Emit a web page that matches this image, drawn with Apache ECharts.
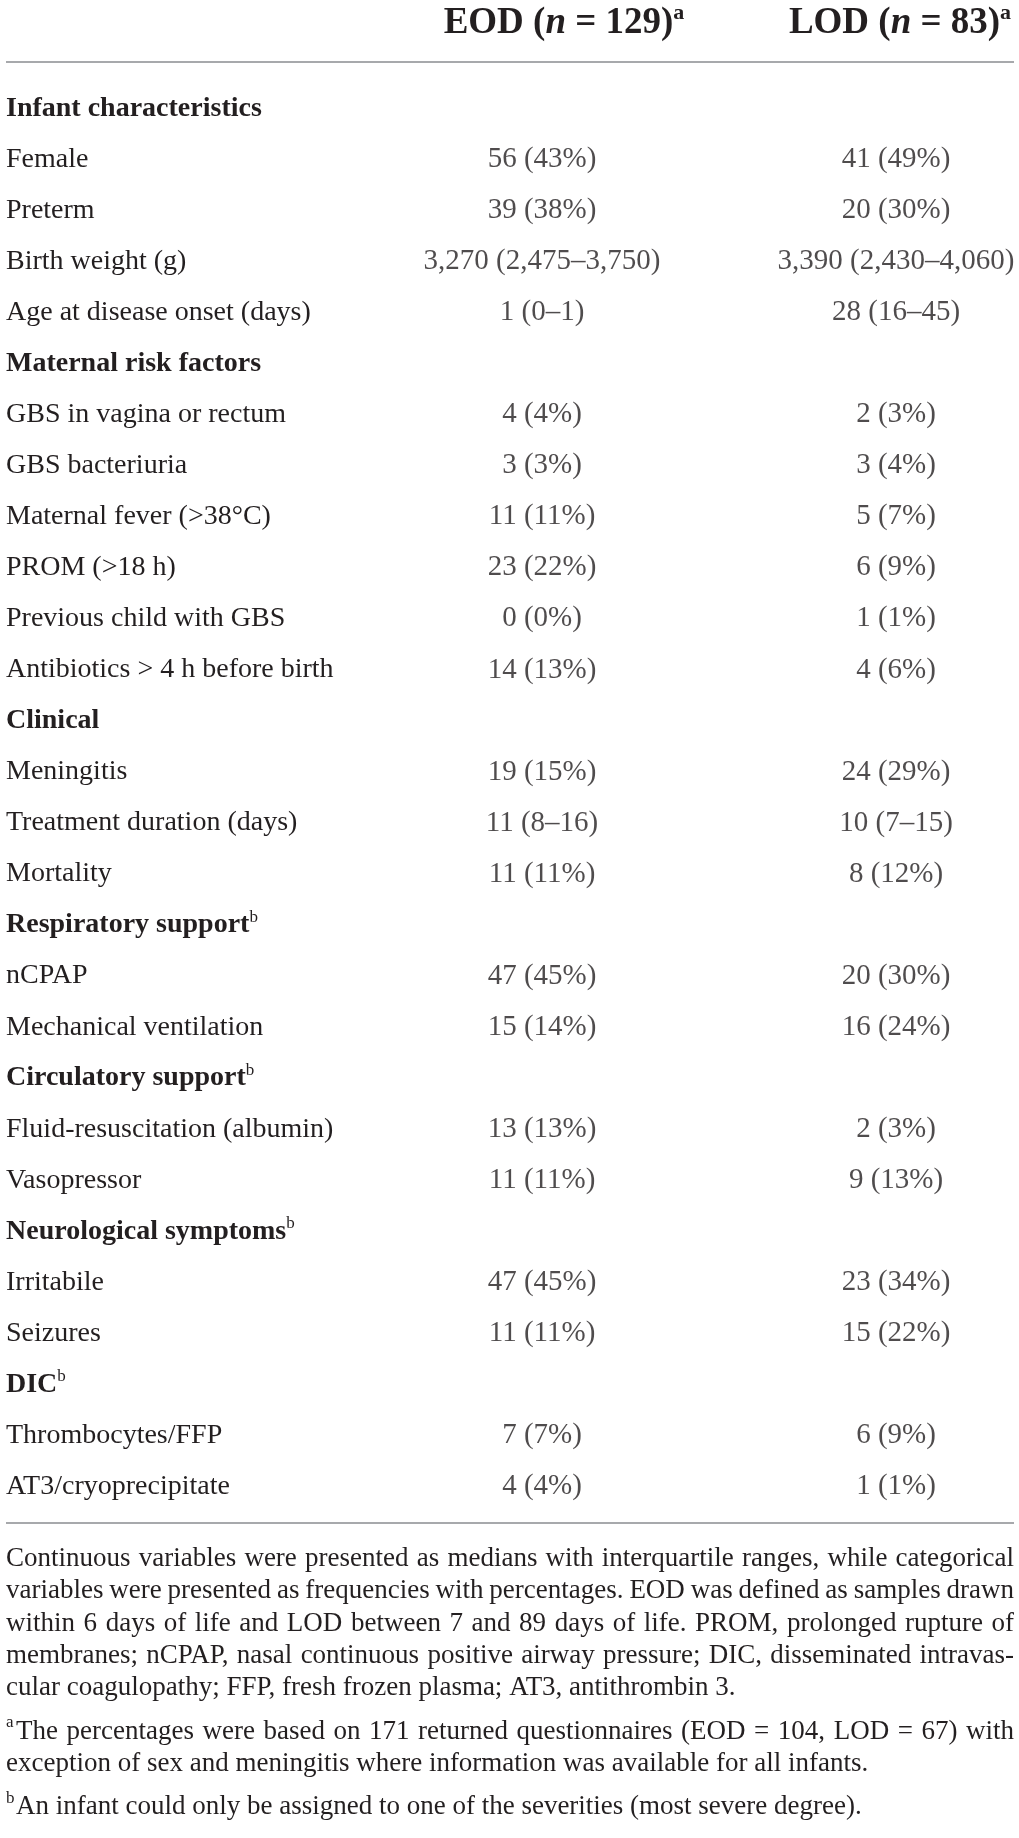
<!DOCTYPE html>
<html>
<head>
<meta charset="utf-8">
<script src="https://cdn.jsdelivr.net/npm/echarts@6/dist/echarts.min.js"></script>
<style>
html, body { margin: 0; padding: 0; background: #fff; }
#main { width: 1019px; height: 1838px; }
</style>
</head>
<body>
<div id="main"></div>
<script>
// table content
var groupNames = ['EOD', 'LOD'];
var groupN = [129, 83];

var rowLabels = [
    'Infant characteristics', 'Female', 'Preterm', 'Birth weight (g)', 'Age at disease onset (days)',
    'Maternal risk factors', 'GBS in vagina or rectum', 'GBS bacteriuria', 'Maternal fever (>38°C)',
    'PROM (>18 h)', 'Previous child with GBS', 'Antibiotics > 4 h before birth',
    'Clinical', 'Meningitis', 'Treatment duration (days)', 'Mortality',
    'Respiratory support', 'nCPAP', 'Mechanical ventilation',
    'Circulatory support', 'Fluid-resuscitation (albumin)', 'Vasopressor',
    'Neurological symptoms', 'Irritabile', 'Seizures',
    'DIC', 'Thrombocytes/FFP', 'AT3/cryoprecipitate'
];
// superscript note on the section headings
var rowNotes = ['', '', '', '', '', '', '', '', '', '', '', '', '', '', '', '',
    'b', '', '', 'b', '', '', 'b', '', '', 'b', '', ''];

var eodValues = [
    null, '56 (43%)', '39 (38%)', '3,270 (2,475–3,750)', '1 (0–1)',
    null, '4 (4%)', '3 (3%)', '11 (11%)', '23 (22%)', '0 (0%)', '14 (13%)',
    null, '19 (15%)', '11 (8–16)', '11 (11%)',
    null, '47 (45%)', '15 (14%)',
    null, '13 (13%)', '11 (11%)',
    null, '47 (45%)', '11 (11%)',
    null, '7 (7%)', '4 (4%)'
];
var lodValues = [
    null, '41 (49%)', '20 (30%)', '3,390 (2,430–4,060)', '28 (16–45)',
    null, '2 (3%)', '3 (4%)', '5 (7%)', '6 (9%)', '1 (1%)', '4 (6%)',
    null, '24 (29%)', '10 (7–15)', '8 (12%)',
    null, '20 (30%)', '16 (24%)',
    null, '2 (3%)', '9 (13%)',
    null, '23 (34%)', '15 (22%)',
    null, '6 (9%)', '1 (1%)'
];

var noteText = [
    'Continuous variables were presented as medians with interquartile ranges, while categorical',
    'variables were presented as frequencies with percentages. EOD was defined as samples drawn',
    'within 6 days of life and LOD between 7 and 89 days of life. PROM, prolonged rupture of',
    'membranes; nCPAP, nasal continuous positive airway pressure; DIC, disseminated intravas-',
    'cular coagulopathy; FFP, fresh frozen plasma; AT3, antithrombin 3.'
];
var noteA = [
    'The percentages were based on 171 returned questionnaires (EOD = 104, LOD = 67) with',
    'exception of sex and meningitis where information was available for all infants.'
];
var noteB = ['An infant could only be assigned to one of the severities (most severe degree).'];

var FONT = '"Liberation Serif", "DejaVu Serif", serif';
var INK = '#231f20';

function seriesData(values) {
    var out = [];
    values.forEach(function (v, i) {
        if (v !== null) out.push([groupNames[values === eodValues ? 0 : 1], rowLabels[i], v]);
    });
    return out;
}

// footnotes: justified lines are laid out word by word
var ctx = document.createElement('canvas').getContext('2d');
var noteSize = 27;
ctx.font = noteSize + 'px ' + FONT;
var noteLeft = 6, noteRight = 1014;
var graphics = [];

function addLine(text, x0, y, justify) {
    if (!justify) {
        graphics.push({ type: 'text', x: x0, y: y,
            style: { text: text, fontSize: noteSize, fontFamily: FONT, fill: INK, verticalAlign: 'middle' } });
        return;
    }
    var words = text.split(' ');
    var total = 0;
    words.forEach(function (w) { total += ctx.measureText(w).width; });
    var gap = (noteRight - x0 - total) / (words.length - 1);
    var x = x0;
    words.forEach(function (w) {
        graphics.push({ type: 'text', x: x, y: y,
            style: { text: w, fontSize: noteSize, fontFamily: FONT, fill: INK, verticalAlign: 'middle' } });
        x += ctx.measureText(w).width + gap;
    });
}
function addSup(letter, y) {
    graphics.push({ type: 'text', x: noteLeft, y: y - 9,
        style: { text: letter, fontSize: 17, fontFamily: FONT, fill: INK, verticalAlign: 'middle' } });
}

var y = 1559, step = 32.3;
noteText.forEach(function (t, i) {
    addLine(t, noteLeft, y, i < noteText.length - 1);
    y += step;
});
y += 11;
addSup('a', y);
noteA.forEach(function (t, i) {
    addLine(t, i === 0 ? noteLeft + 10 : noteLeft, y, i < noteA.length - 1);
    y += step;
});
y += 11;
addSup('b', y);
addLine(noteB[0], noteLeft + 10, y, false);

// horizontal rules
graphics.push({ type: 'line', shape: { x1: 6, y1: 62, x2: 1014, y2: 62 }, style: { stroke: '#a7a9ac', lineWidth: 2 } });
graphics.push({ type: 'line', shape: { x1: 6, y1: 1523, x2: 1014, y2: 1523 }, style: { stroke: '#a7a9ac', lineWidth: 2 } });

var myChart = echarts.init(document.getElementById('main'), null, { renderer: 'canvas' });

var cellLabel = {
    show: true,
    position: 'inside',
    formatter: function (p) { return p.data[2]; },
    fontSize: 29,
    fontFamily: FONT,
    color: INK
};

var option = {
    backgroundColor: '#fff',
    animation: false,
    grid: { left: 365, width: 708, top: 83, height: 1429, containLabel: false, outerBoundsMode: 'none' },
    xAxis: {
        type: 'category',
        position: 'top',
        data: groupNames,
        axisLine: { show: false },
        axisTick: { show: false },
        splitLine: { show: false },
        axisLabel: {
            margin: 39,
            interval: 0,
            formatter: function (name, idx) {
                return (idx === 0 ? '{gap|}' : '{gap2|}') + '{b|' + name + ' (}{i|n}{b| = ' + groupN[idx] + ')}{s|a}';
            },
            rich: {
                gap: { width: 44 },
                gap2: { width: 8 },
                b: { fontSize: 37, fontWeight: 'bold', fontFamily: FONT, color: INK, lineHeight: 42 },
                i: { fontSize: 37, fontWeight: 'bold', fontStyle: 'italic', fontFamily: FONT, color: INK, lineHeight: 42 },
                s: { fontSize: 22, fontWeight: 'bold', fontFamily: FONT, color: INK, verticalAlign: 'top', lineHeight: 22 }
            }
        }
    },
    yAxis: {
        type: 'category',
        inverse: true,
        data: rowLabels,
        axisLine: { show: false },
        axisTick: { show: false },
        splitLine: { show: false },
        axisLabel: {
            interval: 0,
            align: 'left',
            margin: 359,
            formatter: function (name, idx) {
                if (eodValues[idx] === null) {
                    return '{h|' + name + '}' + (rowNotes[idx] ? '{s|' + rowNotes[idx] + '}' : '');
                }
                return '{r|' + name + '}';
            },
            rich: {
                h: { fontSize: 28, fontWeight: 'bold', fontFamily: FONT, color: INK, lineHeight: 32 },
                r: { fontSize: 28, fontFamily: FONT, color: INK, lineHeight: 32 },
                s: { fontSize: 17, fontFamily: FONT, color: INK, verticalAlign: 'top', lineHeight: 18 }
            }
        }
    },
    series: [
        { name: 'EOD', type: 'scatter', symbolSize: 0, data: seriesData(eodValues), label: cellLabel },
        { name: 'LOD', type: 'scatter', symbolSize: 0, data: seriesData(lodValues), label: cellLabel }
    ],
    graphic: graphics
};

myChart.setOption(option);
</script>
</body>
</html>
